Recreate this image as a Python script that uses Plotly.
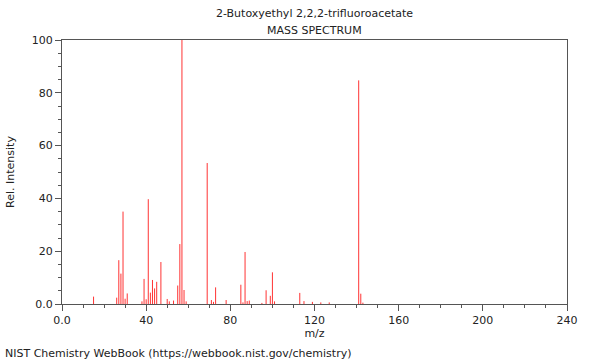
import plotly.graph_objects as go

title_line1 = "2-Butoxyethyl 2,2,2-trifluoroacetate"
title_line2 = "MASS SPECTRUM"

mz = [15, 26, 27, 28, 29, 30, 31, 38, 39, 40, 41, 42, 43, 44, 45, 47, 50, 51, 53,
      55, 56, 57, 58, 59, 69, 71, 72, 73, 78, 85, 86, 87, 88, 89, 95, 97, 99, 100,
      101, 113, 115, 119, 123, 127, 141, 142, 143]
intensity = [2.8, 2.4, 16.6, 11.5, 35.0, 2.0, 4.0, 1.0, 9.5, 1.8, 39.7, 4.3, 9.1,
             5.9, 8.4, 15.9, 1.9, 1.0, 1.3, 7.0, 22.7, 100.0, 5.3, 1.0, 53.4, 1.5,
             0.8, 6.3, 1.5, 7.3, 0.6, 19.7, 1.1, 1.3, 0.4, 5.2, 3.1, 12.0, 1.0, 4.2,
             1.1, 0.8, 0.6, 0.6, 84.7, 3.9, 0.5]

x_ticks = [0, 40, 80, 120, 160, 200, 240]
x_tick_labels = ["0.0", "40", "80", "120", "160", "200", "240"]
y_ticks = [0, 20, 40, 60, 80, 100]
y_tick_labels = ["0.0", "20", "40", "60", "80", "100"]

xs, ys = [], []
for m, h in zip(mz, intensity):
    xs += [m, m, None]
    ys += [0, h, None]

fig = go.Figure()
fig.add_trace(go.Scatter(x=xs, y=ys, mode="lines",
                         line=dict(color="#ff3333", width=1),
                         hoverinfo="skip", showlegend=False))

axis_common = dict(showgrid=False, zeroline=False, showline=True, linecolor="#555555",
                   linewidth=1, mirror=True, ticks="outside", ticklen=6,
                   tickcolor="#555555", tickfont=dict(size=11, color="#222222"))

fig.update_xaxes(range=[0, 240], tickvals=x_ticks, ticktext=x_tick_labels,
                 minor=dict(dtick=10, ticklen=3, ticks="outside", tickcolor="#555555"),
                 title=dict(text="m/z", font=dict(size=11, color="#222222"), standoff=3),
                 **axis_common)
fig.update_yaxes(range=[0, 100], tickvals=y_ticks, ticktext=y_tick_labels,
                 minor=dict(dtick=5, ticklen=3, ticks="outside", tickcolor="#555555"),
                 title=dict(text="Rel. Intensity", font=dict(size=11, color="#222222"), standoff=14),
                 **axis_common)

W, H = 600, 360
L, R, T, B = 62, 33, 40, 56
fig.update_layout(
    width=W, height=H,
    margin=dict(l=L, r=R, t=T, b=B, autoexpand=False),
    plot_bgcolor="white", paper_bgcolor="white",
    font=dict(family="DejaVu Sans", size=11, color="#222222"),
    annotations=[
        dict(text=title_line1, x=0.5, y=1, xref="paper", yref="paper", yshift=27,
             showarrow=False, font=dict(size=11), xanchor="center", yanchor="middle"),
        dict(text=title_line2, x=0.5, y=1, xref="paper", yref="paper", yshift=10,
             showarrow=False, font=dict(size=11), xanchor="center", yanchor="middle"),
        dict(text="NIST Chemistry WebBook (https://webbook.nist.gov/chemistry)",
             x=(3 - L) / (W - L - R), y=-(353 - (H - B)) / (H - T - B),
             xref="paper", yref="paper", showarrow=False,
             font=dict(size=11), xanchor="left", yanchor="middle"),
    ],
)

fig.write_html("out.html", config={"displayModeBar": False},
               post_script="document.body.style.margin='0';")
